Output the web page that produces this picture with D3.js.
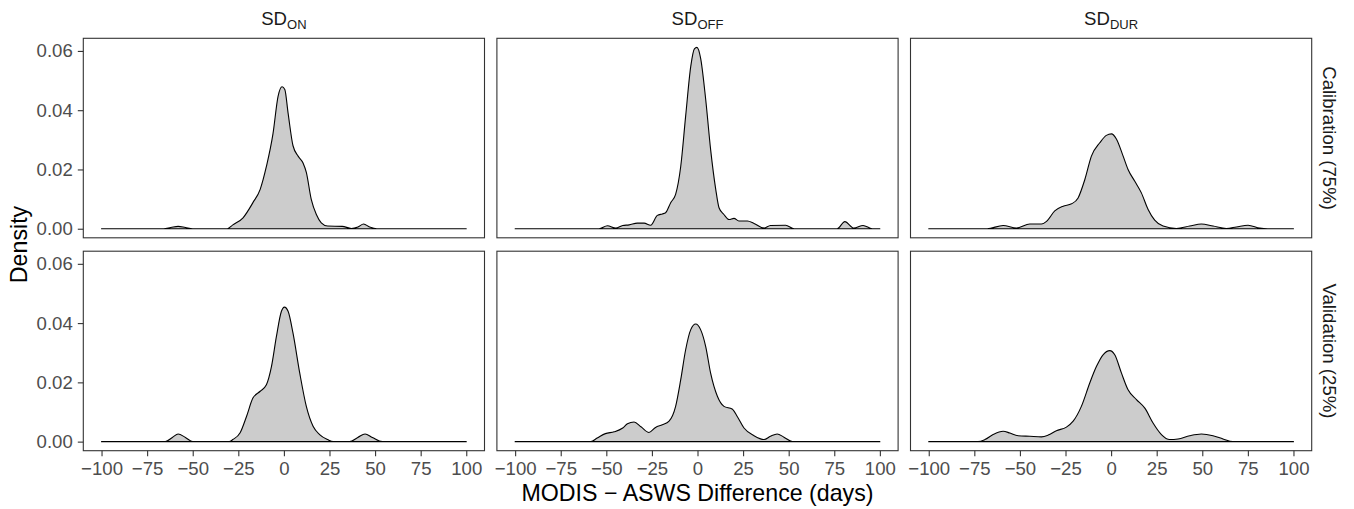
<!DOCTYPE html>
<html>
<head>
<meta charset="utf-8">
<script src="https://cdn.jsdelivr.net/npm/d3@7"></script>
<style>
  body { margin: 0; background: #fff; }
  text { font-family: "Liberation Sans", Arial, sans-serif; }
</style>
</head>
<body>
<svg id="drawing_region"></svg>
<script>
// facet labels
const columns = ["ON", "OFF", "DUR"];
const rows = ["Calibration (75%)", "Validation (25%)"];
const xTicks = [-100, -75, -50, -25, 0, 25, 50, 75, 100];
const yTicks = [0, 0.02, 0.04, 0.06];
const yMax = 0.0612;

// density curves: [difference (days), density]
const onCal = [[-100,0],[-66,0],[-62,0.0004],[-58,0.0008],[-54,0.0004],[-50,0],[-31,0],[-28,0.0013],
  [-22.4,0.0037],[-17,0.0088],[-13,0.0133],[-9.6,0.021],[-6,0.032],[-3.2,0.0447],[-1,0.0479],
  [0.5,0.047],[2.3,0.039],[5,0.028],[7.8,0.0245],[10.5,0.0222],[12.3,0.019],[15,0.0099],
  [17.8,0.0048],[20.5,0.002],[24,0.0009],[32,0.0008],[37,0.0001],[40.6,0.0006],[43.7,0.0016],
  [47,0.0006],[51,0],[100,0]];
const onVal = [[-100,0],[-65,0],[-61,0.0015],[-58,0.0026],[-54,0.0014],[-50,0],[-30,0],[-28,0.0007],
  [-24,0.003],[-20.5,0.0085],[-17,0.0147],[-13,0.017],[-9.6,0.0192],[-6.8,0.0254],[-4.1,0.0355],
  [-1.4,0.0439],[0.3,0.0454],[2.3,0.044],[5,0.0366],[8.7,0.0231],[12.3,0.0119],[16,0.0052],
  [19.6,0.0024],[24,0.0007],[27,0],[36,0],[40.5,0.0014],[44.5,0.0026],[48.5,0.0014],[54,0],[100,0]];
const offCal = [[-100,0],[-54,0],[-49.4,0.001],[-44.8,0.0002],[-41,0.0011],[-37.5,0.0013],[-33,0.0019],
  [-29.3,0.0019],[-25.7,0.0012],[-22,0.0045],[-19.3,0.005],[-17.5,0.0054],[-14.7,0.0088],
  [-12,0.0116],[-9.2,0.021],[-6.5,0.038],[-3.7,0.0548],[-1.7,0.0607],[-0.3,0.0612],[1.7,0.0576],
  [4.5,0.0436],[7.2,0.0267],[10,0.0133],[11.8,0.0071],[14.5,0.0048],[17.3,0.0031],[20,0.0035],
  [22.7,0.0026],[27.4,0.0026],[31,0.0018],[36.5,0.0002],[40,0.0011],[48.3,0.0012],[53,0],
  [76.6,0],[80.8,0.0024],[85.7,0.0002],[90.8,0.0011],[95.8,0],[100,0]];
const offVal = [[-100,0],[-58.5,0],[-55,0.0012],[-50.5,0.0027],[-45.7,0.0033],[-41,0.0046],
  [-38.4,0.006],[-34.8,0.0066],[-31,0.005],[-26.6,0.0031],[-23,0.0048],[-19.3,0.0057],
  [-15.6,0.0069],[-12,0.0119],[-9.2,0.0209],[-6.5,0.031],[-3.7,0.0378],[-1,0.0397],[1.7,0.0378],
  [4.5,0.0321],[7.2,0.0231],[10.9,0.0153],[14.5,0.0119],[19,0.011],[21.8,0.0085],[25.5,0.0046],
  [31,0.002],[36.5,0.0007],[40,0.0018],[43.7,0.0026],[47.4,0.0015],[52,0],[100,0]];
const durCal = [[-100,0],[-68,0],[-59.2,0.0011],[-51.9,0.0002],[-44.6,0.0016],[-38.2,0.0016],
  [-35.4,0.0025],[-30.9,0.006],[-26.3,0.0076],[-21.7,0.0084],[-18.1,0.0104],[-14.4,0.0166],
  [-10.8,0.0245],[-6.2,0.029],[-2.6,0.0315],[0.2,0.032],[2.9,0.0303],[6.6,0.0245],[9.3,0.02],
  [13,0.016],[16.6,0.0121],[20.3,0.0065],[23.9,0.0029],[28.5,0.0009],[35.8,0.0001],[43.1,0.0009],
  [49.5,0.0016],[55.9,0.0009],[63.2,0.0001],[68.7,0.0006],[75.1,0.0012],[81.5,0.0002],[86,0],[100,0]];
const durVal = [[-100,0],[-73,0],[-69.2,0.0007],[-64.7,0.0024],[-59.2,0.0035],[-55.5,0.0029],
  [-51,0.002],[-44.6,0.0018],[-38.2,0.0016],[-34.5,0.0022],[-30,0.0037],[-24.5,0.0049],
  [-20.8,0.0069],[-16.3,0.0119],[-11.7,0.0198],[-8,0.0254],[-4.4,0.0293],[-0.7,0.0307],
  [2,0.0293],[5.7,0.0231],[9.3,0.0175],[13.9,0.0142],[18.5,0.0113],[23,0.0063],[27.6,0.0024],
  [32.1,0.0007],[36.7,0.0009],[43.1,0.002],[49.5,0.0026],[55.9,0.002],[61.4,0.0009],[66.8,0],[100,0]];

const panels = [
  {row: 0, col: 0, values: onCal}, {row: 0, col: 1, values: offCal}, {row: 0, col: 2, values: durCal},
  {row: 1, col: 0, values: onVal}, {row: 1, col: 1, values: offVal}, {row: 1, col: 2, values: durVal},
];

const config = {
  width: 1354, height: 509,
  margin: {top: 38.3, right: 42.3, bottom: 58.3, left: 83.3},
  hgap: 12.4, vgap: 13.4,
};

const svg = d3.select('#drawing_region')
  .attr('width', config.width)
  .attr('height', config.height);

const pw = (config.width - config.margin.left - config.margin.right - 2 * config.hgap) / 3;
const ph = (config.height - config.margin.top - config.margin.bottom - config.vgap) / 2;

const xscale = d3.scaleLinear().domain([-110, 110]).range([0, pw]);
const yscale = d3.scaleLinear().domain([-0.05 * yMax, 1.05 * yMax]).range([ph, 0]);

const area = d3.area()
  .x(d => xscale(d[0]))
  .y0(yscale(0))
  .y1(d => yscale(Math.max(0, d[1])))
  .curve(d3.curveMonotoneX);

panels.forEach(p => {
  const px = config.margin.left + p.col * (pw + config.hgap);
  const py = config.margin.top + p.row * (ph + config.vgap);
  const g = svg.append('g').attr('transform', `translate(${px}, ${py})`);

  g.append('path')
    .datum(p.values)
    .attr('d', d => area(d) + 'Z')
    .attr('fill', '#cccccc')
    .attr('stroke', '#000')
    .attr('stroke-width', 1.1)
    .attr('stroke-linejoin', 'round');

  g.append('rect')
    .attr('width', pw).attr('height', ph)
    .attr('fill', 'none')
    .attr('stroke', '#333333')
    .attr('stroke-width', 1.1);

  if (p.col === 0) {
    const yaxis = g.append('g')
      .call(d3.axisLeft(yscale).tickValues(yTicks).tickFormat(d3.format('.2f')).tickSize(5.5).tickPadding(5));
    yaxis.select('.domain').remove();
  }
  if (p.row === 1) {
    const xaxis = g.append('g')
      .attr('transform', `translate(0, ${ph})`)
      .call(d3.axisBottom(xscale).tickValues(xTicks).tickFormat(d => d < 0 ? '\u2212' + (-d) : d).tickSize(5.5).tickPadding(5.5));
    xaxis.select('.domain').remove();
  }

  // column strip
  if (p.row === 0) {
    const t = svg.append('text')
      .attr('x', px + pw / 2)
      .attr('y', 25)
      .attr('text-anchor', 'middle')
      .attr('font-size', 18.6)
      .attr('fill', '#1a1a1a');
    t.append('tspan').text('SD');
    t.append('tspan').attr('font-size', 13).attr('dy', 3.5).text(columns[p.col]);
  }
  // row strip
  if (p.col === 2) {
    svg.append('text')
      .attr('transform', `translate(${px + pw + 11.5}, ${py + ph / 2}) rotate(90)`)
      .attr('text-anchor', 'middle')
      .attr('font-size', 18.6)
      .attr('fill', '#1a1a1a')
      .text(rows[p.row]);
  }
});

svg.selectAll('.tick text')
  .attr('font-size', 18.6)
  .attr('font-family', '"Liberation Sans", Arial, sans-serif')
  .attr('fill', '#4d4d4d');
svg.selectAll('.tick line')
  .attr('stroke', '#333333')
  .attr('stroke-width', 1.1);

svg.append('text')
  .attr('x', config.margin.left + (3 * pw + 2 * config.hgap) / 2)
  .attr('y', 501)
  .attr('text-anchor', 'middle')
  .attr('font-size', 23.2)
  .text('MODIS \u2212 ASWS Difference (days)');

svg.append('text')
  .attr('transform', `translate(27, ${config.margin.top + ph + config.vgap / 2}) rotate(-90)`)
  .attr('text-anchor', 'middle')
  .attr('font-size', 23.2)
  .text('Density');
</script>
</body>
</html>
